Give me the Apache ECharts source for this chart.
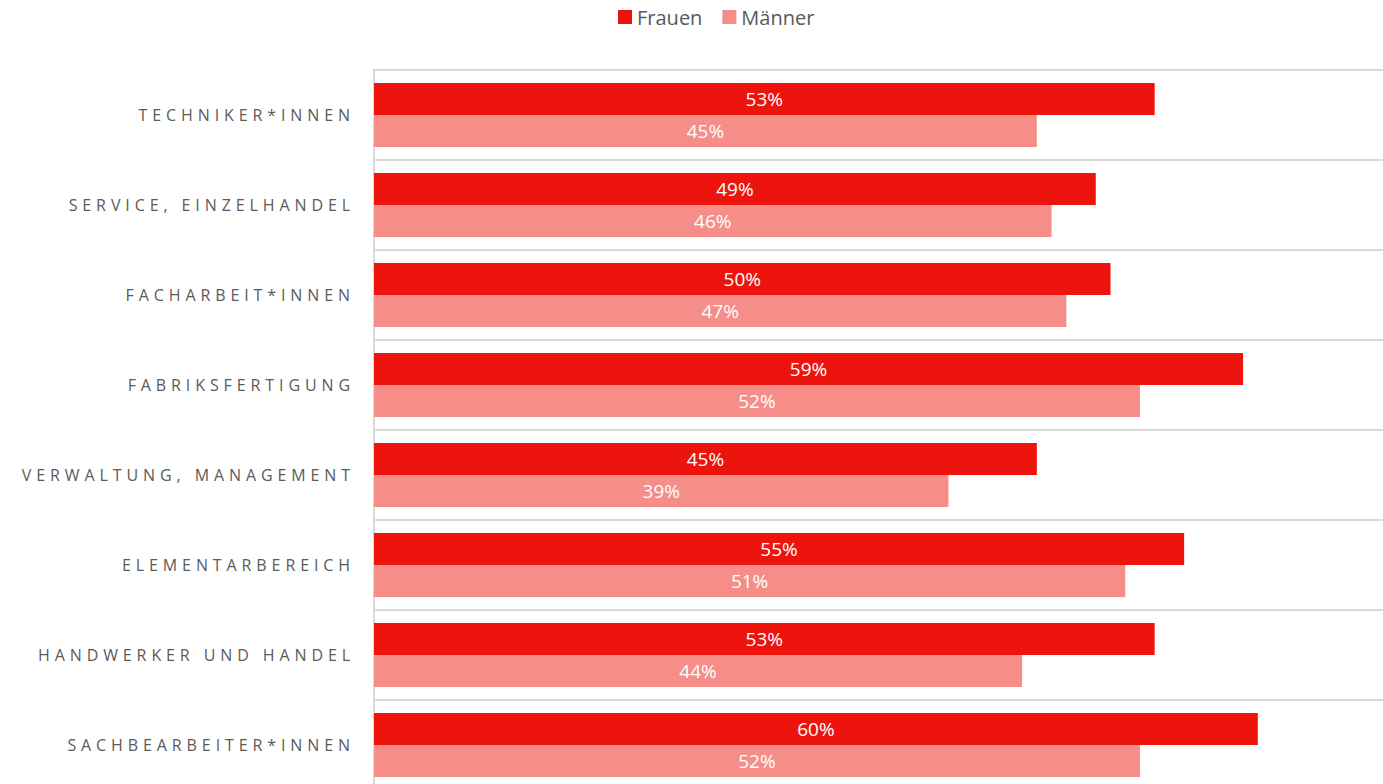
<!DOCTYPE html>
<html><head><meta charset="utf-8">
<script src="https://cdn.jsdelivr.net/npm/echarts@6/dist/echarts.min.js"></script>
<style>
html,body{margin:0;padding:0;background:#fff;}
#c{width:1383px;height:784px;}
text[fill="#5b5b5b"]{letter-spacing:4.9px;}
</style></head>
<body><div id="c"></div>
<script>
const categories = ['TECHNIKER*INNEN','SERVICE, EINZELHANDEL','FACHARBEIT*INNEN','FABRIKSFERTIGUNG','VERWALTUNG, MANAGEMENT','ELEMENTARBEREICH','HANDWERKER UND HANDEL','SACHBEARBEITER*INNEN'];
const frauen = [53,49,50,59,45,55,53,60];
const maenner = [45,46,47,52,39,51,44,52];
const seriesNames = ['Frauen','Männer'];

const chart = echarts.init(document.getElementById('c'), null, {renderer:'svg'});
const lbl = {show:true, position:'inside', color:'#ffffff', fontSize:19, fontFamily:'Open Sans', formatter: p => p.value + '%'};
chart.setOption({
  animation:false,
  textStyle:{fontFamily:'Open Sans'},
  legend:{top:2,left:613,itemWidth:14,itemHeight:14,itemGap:20,itemTextGap:6,icon:'rect',
    textStyle:{fontSize:20,color:'#595959',fontFamily:'Open Sans'}},
  grid:{left:374,right:0,top:70,height:720,containLabel:false,outerBoundsMode:'none'},
  xAxis:{type:'value',min:0,max:68.5,show:false},
  yAxis:{type:'category',data:categories,inverse:true,
    axisLine:{show:true,lineStyle:{color:'#d9d9d9',width:2}},
    axisTick:{show:false},
    splitLine:{show:true,lineStyle:{color:'#d9d9d9',width:2}},
    axisLabel:{color:'#5b5b5b',fontSize:16,margin:19,fontFamily:'Open Sans'}},
  series:[
    {name:seriesNames[0],type:'bar',data:frauen,barWidth:32,barGap:'0%',itemStyle:{color:'#ee140e'},label:lbl},
    {name:seriesNames[1],type:'bar',data:maenner,barWidth:32,barGap:'0%',itemStyle:{color:'#f58e89'},label:lbl}
  ]
});
</script></body></html>
